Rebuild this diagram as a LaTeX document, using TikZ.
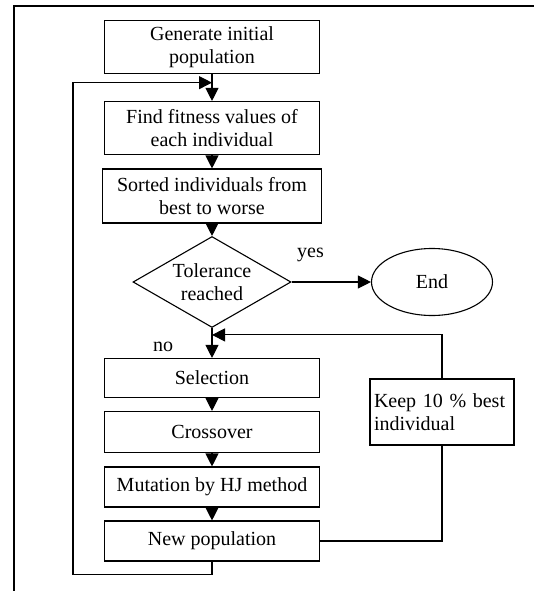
\documentclass[tikz,border=0pt]{standalone}
\usepackage{fontspec}
\setmainfont{Liberation Serif}
\usepackage{xcolor}
\usepackage{tikz}
\usetikzlibrary{arrows.meta,positioning,shapes.geometric,calc}

\begin{document}
\begin{tikzpicture}[
  x=1pt,y=-1pt,
  on grid,
  >={Triangle[length=13pt,width=13pt]},
  every node/.style={font=\fontsize{20}{23}\selectfont},
  stepbox/.style={draw,line width=1.1pt,minimum width=215pt,inner sep=2pt,align=center},
  test/.style={diamond,draw,line width=1.1pt,aspect=1.74,minimum width=158pt,minimum height=91pt,inner sep=0pt,align=center},
  stop/.style={ellipse,draw,line width=1.1pt,minimum width=121pt,minimum height=67pt},
  flow/.style={->,line width=1.1pt}]
  \useasboundingbox (0,0) rectangle (534,591);
  \draw[line width=2.5pt] (534,6) -- (14,6) -- (14,591);
  % main column of the loop
  \node [stepbox,minimum height=53pt] (gen) at (212,47) {Generate initial\\population};
  \node [stepbox,minimum height=53pt] (fit) [below=81pt of gen] {Find fitness values of\\each individual};
  \node [stepbox,minimum height=54pt,minimum width=219pt] (sort) [below=68pt of fit] {Sorted individuals from\\best to worse};
  \node [test] (tol) [below=86pt of sort] {Tolerance\\reached};
  \node [stop] (end) [right=220pt of tol] {End};
  \node [stepbox,minimum height=39pt] (sel) [below=96pt of tol] {Selection};
  \node [stepbox,minimum height=41pt] (cross) [below=54pt of sel] {Crossover};
  \node [stepbox,minimum height=40pt] (mut) [below=55pt of cross] {Mutation by HJ method};
  \node [stepbox,minimum height=40pt] (newp) [below=54pt of mut] {New population};
  \node [stepbox,align=left,minimum width=144pt,minimum height=66pt,text width=136pt] (keep) [below right=34pt and 230pt of sel] {Keep 10 \% best\\individual};
  \node (yes) [above right=27pt and 19pt of tol.east,anchor=center] {yes};
  \node (no) [above left=11pt and 49pt of sel.north,anchor=center] {no};
  \coordinate (join1) at ($(gen.south)!0.32!(fit.north)$);
  \coordinate (join2) at ($(tol.south)!0.23!(sel.north)$);
  \draw[flow] (gen) -- (fit);
  \draw[flow] (fit) -- (sort);
  \draw[flow] (sort) -- (tol);
  \draw[flow] (tol) -- (sel);
  \draw[flow] (sel) -- (cross);
  \draw[flow] (cross) -- (mut);
  \draw[flow] (mut) -- (newp);
  \draw[flow] (tol.east) -- (tol.east -| end.west);
  \draw[flow] (newp.south) -- ++(0,13) -| ([xshift=-139pt]join1) -- (join1);
  \draw[line width=1.1pt] (newp.east) -| (keep.south);
  \draw[flow] (keep.north) |- (join2);
\end{tikzpicture}
\end{document}
